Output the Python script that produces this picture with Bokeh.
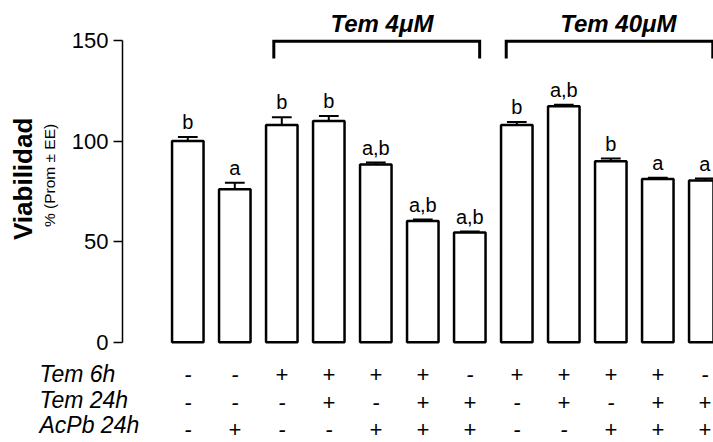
import math
from bokeh.plotting import figure
from bokeh.models import Range1d, FixedTicker, LinearAxis, ColumnDataSource
from bokeh.core.properties import value
from bokeh.embed import file_html
from bokeh.resources import INLINE

# ---- data ----
BAR_X = [1, 2, 3, 4, 5, 6, 7, 8, 9, 10, 11, 12]
VIAB = [100, 76, 108, 110, 88.3, 60.2, 54.5, 108, 117.3, 90, 81.1, 80.4]
ERR = [2.0, 3.3, 3.8, 2.5, 1.0, 0.8, 0.5, 1.5, 0.8, 1.3, 0.6, 1.0]
LETTERS = ["b", "a", "b", "b", "a,b", "a,b", "a,b", "b", "a,b", "b", "a", "a"]
Y_TICKS = [0, 50, 100, 150]
ROW_NAMES = ["Tem 6h", "Tem 24h", "AcPb 24h"]
TEM6 = ["-", "-", "+", "+", "+", "+", "-", "+", "+", "+", "+", "-"]
TEM24 = ["-", "-", "-", "+", "-", "+", "+", "-", "+", "-", "+", "+"]
ACPB = ["-", "+", "-", "-", "+", "+", "+", "-", "-", "+", "+", "+"]
GROUPS = ["Tem 4\u03bcM", "Tem 40\u03bcM"]
GROUP_SPAN = [(2.83, 7.21), (7.775, 12.17)]
GROUP_LABEL_X = [5.13, 10.16]

FONT = "Liberation Sans"
X0 = -2.985
AXIS_X = -0.389

p = figure(width=713, height=442,
           x_range=Range1d(X0, X0 + 713 / 47.0), y_range=Range1d(-49.9, 169.9),
           x_axis_location=None, y_axis_location=None,
           toolbar_location=None, output_backend="svg",
           min_border_left=0, min_border_right=0,
           min_border_top=0, min_border_bottom=0)
p.outline_line_color = None
p.background_fill_color = "white"
p.border_fill_color = "white"
p.grid.visible = False

ax = LinearAxis(fixed_location=AXIS_X)
ax.bounds = (0, 150)
ax.ticker = FixedTicker(ticks=Y_TICKS)
ax.minor_tick_line_color = None
ax.major_tick_in = 0
ax.major_tick_out = 9
ax.axis_line_width = 1.5
ax.major_tick_line_width = 1.5
ax.axis_line_color = "black"
ax.major_tick_line_color = "black"
ax.major_label_text_font = FONT
ax.major_label_text_font_size = "22px"
ax.major_label_text_color = "black"
ax.major_label_standoff = 5
p.add_layout(ax, "left")

# bars
src = ColumnDataSource(dict(x=BAR_X, top=VIAB,
                            hi=[v + e for v, e in zip(VIAB, ERR)],
                            cl=[x - 0.21 for x in BAR_X],
                            cr=[x + 0.21 for x in BAR_X],
                            ly=[v + e + 7.4 for v, e in zip(VIAB, ERR)],
                            lab=LETTERS))
p.vbar(x="x", top="top", bottom=0, width=0.67, source=src,
       fill_color="white", line_color="black", line_width=2.5)
p.segment(x0="x", y0="top", x1="x", y1="hi", source=src,
          line_color="black", line_width=2)
p.segment(x0="cl", y0="hi", x1="cr", y1="hi", source=src,
          line_color="black", line_width=2)
p.text(x="x", y="ly", text="lab", source=src, text_align="center",
       text_baseline="middle", text_font=value(FONT),
       text_font_size="20px", text_color="black")

# brackets
for (x0, x1), name, lx in zip(GROUP_SPAN, GROUPS, GROUP_LABEL_X):
    p.line(x=[x0, x0, x1, x1], y=[141.1, 149.6, 149.6, 141.1],
           line_color="black", line_width=3, line_join="miter")
    p.text(x=[lx], y=[158.3], text=[name], text_align="center",
           text_baseline="middle", text_font=value(FONT),
           text_font_size="24px", text_font_style="bold italic",
           text_color="black")

# treatment table
MARK_Y = [-16.2, -30.0, -43.2]
NAME_Y = [-15.7, -28.6, -41.3]
for rows, ry in zip([TEM6, TEM24, ACPB], MARK_Y):
    p.text(x=BAR_X, y=[ry] * len(BAR_X), text=rows, text_align="center",
           text_baseline="middle", text_font=value(FONT),
           text_font_size="22px", text_font_style="italic",
           text_color="black")
p.text(x=[X0 + 39 / 47.0] * 3, y=NAME_Y, text=ROW_NAMES, text_align="left",
       text_baseline="middle", text_font=value(FONT),
       text_font_size="23px", text_font_style="italic", text_color="black")

# y axis titles
p.text(x=[X0 + 22 / 47.0], y=[81.2], text=["Viabilidad"], angle=math.pi / 2,
       text_align="center", text_baseline="middle", text_font=value(FONT),
       text_font_size="26px", text_font_style="bold", text_color="black")
p.text(x=[X0 + 49 / 47.0], y=[82.9], text=["% (Prom \u00b1 EE)"], angle=math.pi / 2,
       text_align="center", text_baseline="middle", text_font=value(FONT),
       text_font_size="15.5px", text_color="black")

open("out.html", "w").write(file_html(p, INLINE))
